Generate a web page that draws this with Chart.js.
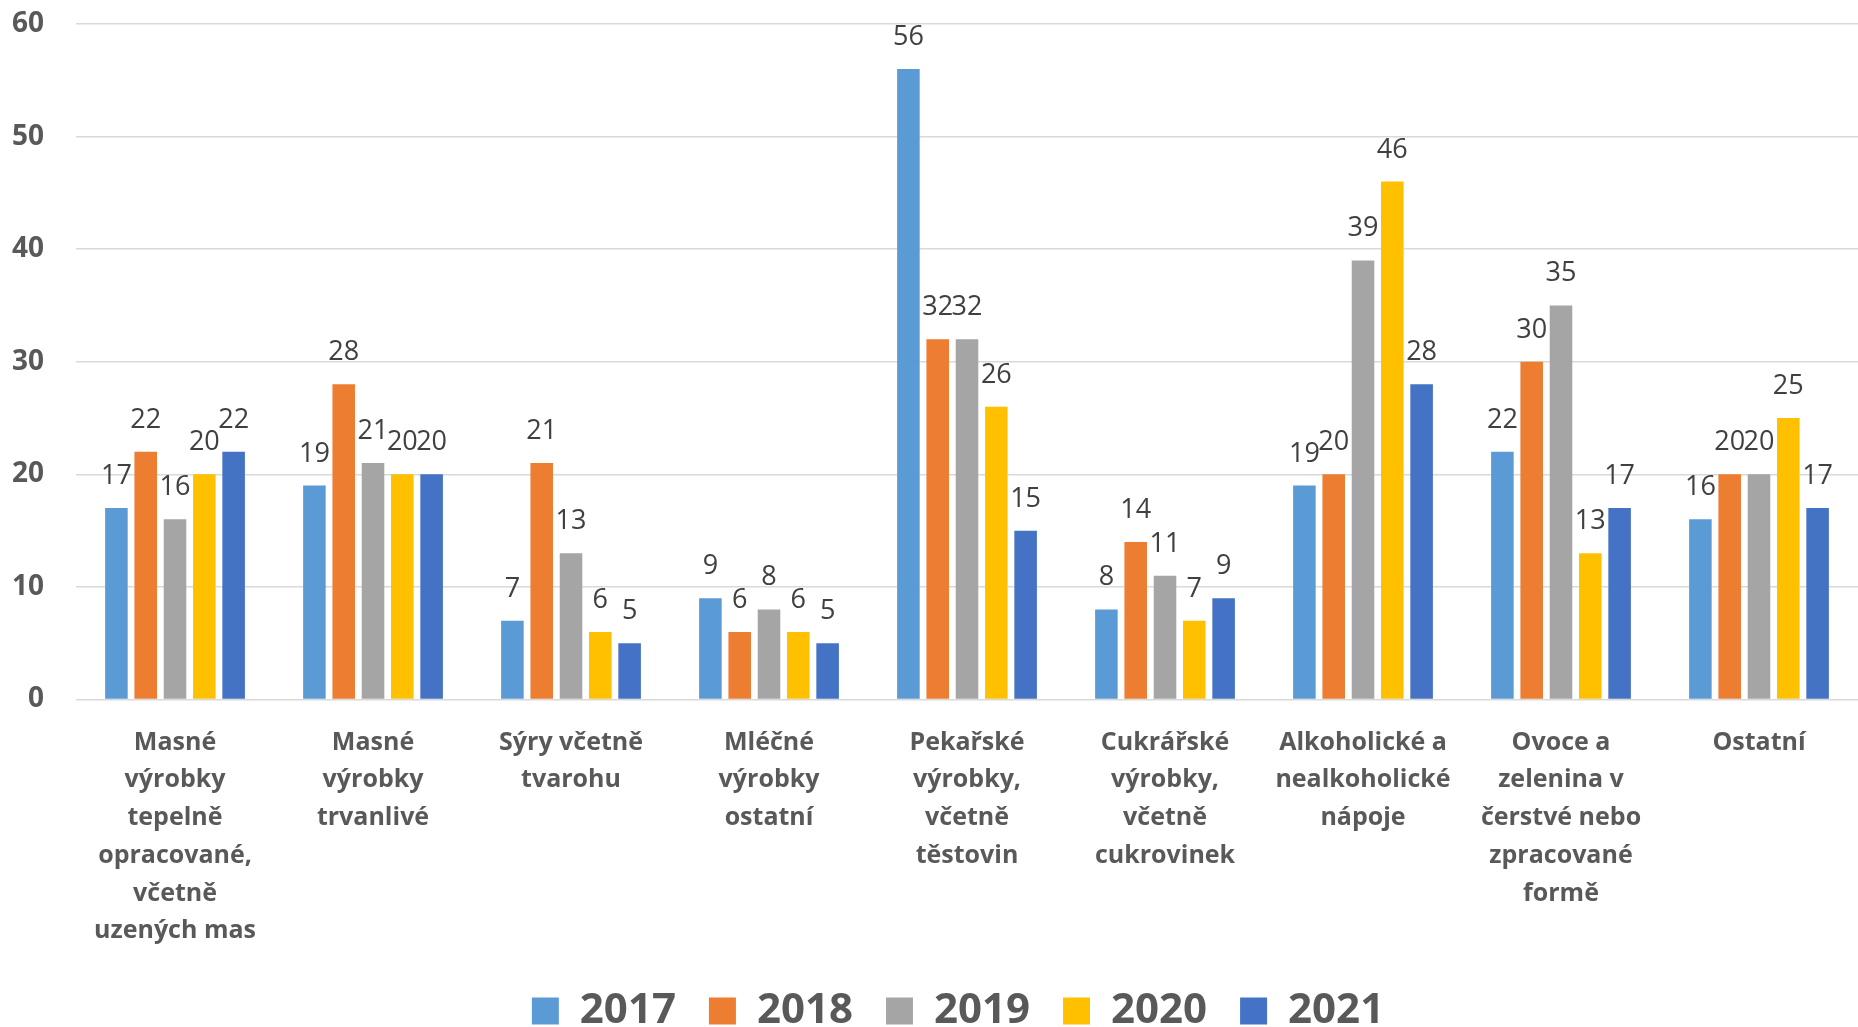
<!DOCTYPE html>
<html>
<head>
<meta charset="utf-8">
<script src="https://cdn.jsdelivr.net/npm/chart.js@4.4.1/dist/chart.umd.min.js"></script>
<style>
  html, body { margin: 0; padding: 0; background: #fff; }
  #wrap { width: 1858px; height: 1027px; position: relative; }
</style>
</head>
<body>
<div id="wrap"><canvas id="chart"></canvas></div>
<script>
// ---- DATA ----
const categories = [
    ['Masné', 'výrobky', 'tepelně', 'opracované,', 'včetně', 'uzených mas'],
    ['Masné', 'výrobky', 'trvanlivé'],
    ['Sýry včetně', 'tvarohu'],
    ['Mléčné', 'výrobky', 'ostatní'],
    ['Pekařské', 'výrobky,', 'včetně', 'těstovin'],
    ['Cukrářské', 'výrobky,', 'včetně', 'cukrovinek'],
    ['Alkoholické a', 'nealkoholické', 'nápoje'],
    ['Ovoce a', 'zelenina v', 'čerstvé nebo', 'zpracované', 'formě'],
    ['Ostatní']
];
const years = ['2017', '2018', '2019', '2020', '2021'];
const values2017 = [17, 19, 7, 9, 56, 8, 19, 22, 16];
const values2018 = [22, 28, 21, 6, 32, 14, 20, 30, 20];
const values2019 = [16, 21, 13, 8, 32, 11, 39, 35, 20];
const values2020 = [20, 20, 6, 6, 26, 7, 46, 13, 25];
const values2021 = [22, 20, 5, 5, 15, 9, 28, 17, 17];
const yTicks = [0, 10, 20, 30, 40, 50, 60];

const seriesColors = ['#5B9BD5', '#ED7D31', '#A5A5A5', '#FFC000', '#4472C4'];
const allValues = [values2017, values2018, values2019, values2020, values2021];

const FONT = "'Open Sans', 'Liberation Sans', sans-serif";
Chart.defaults.font.family = FONT;
Chart.defaults.color = '#595959';

// legend box: reserved height, where it is drawn, and sideways nudge
const LEGEND_RESERVE = 61;
const LEGEND_TOP = 957;
const LEGEND_SHIFT_X = 39;

// value labels above each bar
const barLabels = {
    id: 'barLabels',
    afterDatasetsDraw(chart) {
        const ctx = chart.ctx;
        ctx.save();
        ctx.font = '27px ' + FONT;
        ctx.fillStyle = '#404040';
        ctx.textAlign = 'center';
        ctx.textBaseline = 'alphabetic';
        chart.data.datasets.forEach((ds, i) => {
            chart.getDatasetMeta(i).data.forEach((bar, j) => {
                ctx.fillText(String(ds.data[j]), bar.x, bar.y - 24);
            });
        });
        ctx.restore();
    }
};

// legend keeps wide item spacing but takes less room under the axis
const legendPlacer = {
    id: 'legendPlacer',
    beforeInit(chart) {
        const fit = chart.legend.fit;
        chart.legend.fit = function () {
            fit.call(this);
            this.height = LEGEND_RESERVE;
        };
    },
    afterLayout(chart) {
        const lg = chart.legend;
        lg.top = LEGEND_TOP;
        lg.bottom = chart.height; // legend clips to its box
        lg.left += LEGEND_SHIFT_X;
        lg.right += LEGEND_SHIFT_X;
    }
};

new Chart(document.getElementById('chart'), {
    type: 'bar',
    data: {
        labels: categories,
        datasets: years.map((y, i) => ({
            label: y,
            data: allValues[i],
            backgroundColor: seriesColors[i],
            borderWidth: 0,
            categoryPercentage: 0.74,
            barPercentage: 0.77
        }))
    },
    options: {
        responsive: true,
        maintainAspectRatio: false,
        animation: false,
        layout: { padding: { top: 0, left: -20, right: 0, bottom: 0 } },
        plugins: {
            legend: {
                position: 'bottom',
                labels: {
                    boxWidth: 27,
                    boxHeight: 27,
                    padding: 33,
                    color: '#595959',
                    font: { size: 42, weight: 'bold' }
                }
            },
            tooltip: { enabled: false }
        },
        scales: {
            x: {
                grid: { display: false },
                border: { display: false },
                ticks: {
                    padding: 16,
                    maxRotation: 0,
                    autoSkip: false,
                    color: '#595959',
                    font: { size: 25, weight: 'bold', lineHeight: 1.51 }
                }
            },
            y: {
                min: 0,
                max: 60,
                afterBuildTicks: axis => { axis.ticks = yTicks.map(v => ({ value: v })); },
                afterFit: axis => { axis.paddingTop = 24; axis.paddingBottom = 0; },
                grid: { color: '#d9d9d9', lineWidth: 1.5, drawTicks: false },
                border: { display: false },
                ticks: {
                    padding: 32,
                    color: '#595959',
                    font: { size: 28, weight: 'bold' }
                }
            }
        }
    },
    plugins: [barLabels, legendPlacer]
});
</script>
</body>
</html>
